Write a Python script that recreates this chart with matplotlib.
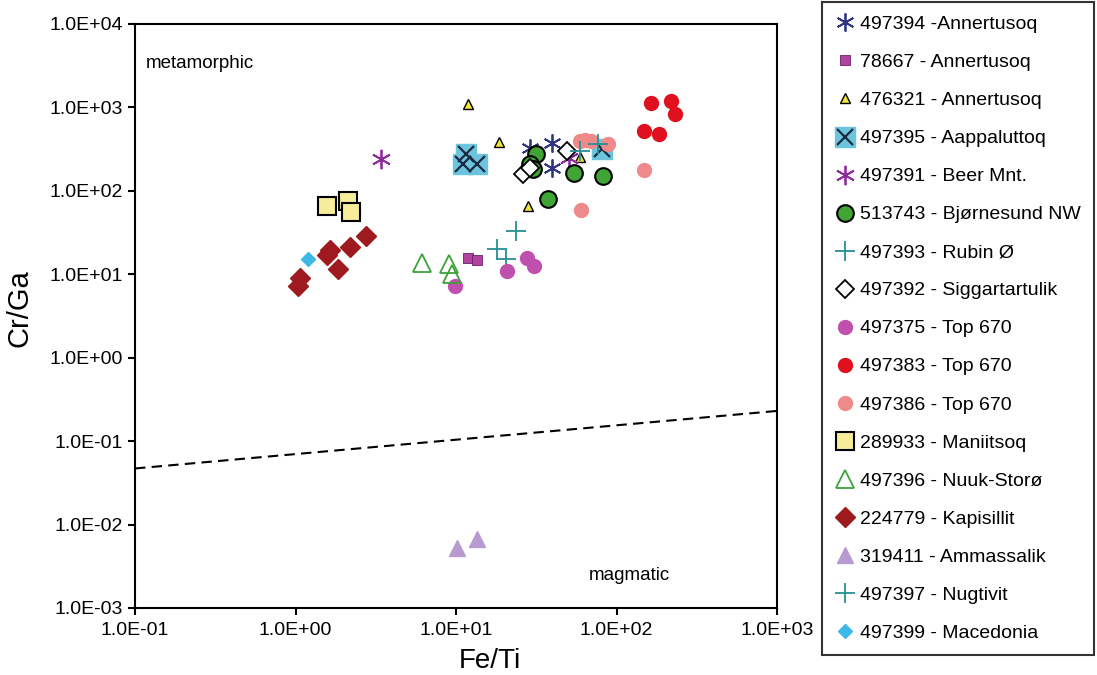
import numpy as np
import matplotlib
matplotlib.use("Agg")
import matplotlib.pyplot as plt
from matplotlib.ticker import FixedLocator, FuncFormatter, NullLocator
from matplotlib.legend_handler import HandlerTuple

plt.rcParams['font.family'] = ['Liberation Sans', 'DejaVu Sans']

# ---- data: Fe/Ti (x) and Cr/Ga (y) per sample ----
s497394_x = [28.7, 39.4, 39.9]
s497394_y = [330, 378, 190]
s78667_x = [11.8, 13.6]
s78667_y = [15.8, 15.0]
s476321_x = [11.8, 18.4, 27.9, 58.8]
s476321_y = [1110, 389, 66.5, 257]
s497395_x = [11.0, 11.6, 13.6, 80.7]
s497395_y = [212, 279, 212, 321]
s497391_x = [3.43, 50.9]
s497391_y = [243, 250]
s513743_x = [31.7, 28.7, 30.0, 37.2, 54.7, 81.8]
s513743_y = [279, 212, 185, 80.6, 165, 152]
s497393_x = [23.8, 17.9, 20.6]
s497393_y = [33.3, 20.3, 15.4]
s497392_x = [26.0, 29.1, 48.8]
s497392_y = [161, 190, 303]
s497375_x = [9.8, 20.9, 27.5, 30.8]
s497375_y = [7.3, 11.0, 15.8, 12.7]
s497383_x = [165, 220, 230, 149, 185]
s497383_y = [1142, 1207, 843, 527, 485]
s497386_x = [58.8, 69.8, 87.9, 149, 60.5, 64.0]
s497386_y = [400, 400, 368, 180, 59.5, 410]
s289933_x = [1.56, 2.11, 2.23]
s289933_y = [66.5, 76.3, 56.3]
s497396_x = [6.1, 9.1, 9.5]
s497396_y = [13.8, 13.4, 10.2]
s224779_x = [1.07, 1.04, 1.65, 1.56, 1.83, 2.17, 2.73]
s224779_y = [9.1, 7.3, 19.7, 17.2, 11.7, 21.4, 29.0]
s319411_x = [10.2, 13.6]
s319411_y = [0.00527, 0.00676]
s497397_x = [58.8, 76.2]
s497397_y = [303, 368]
s497399_x = [1.19]
s497399_y = [15.4]

# discrimination line (metamorphic / magmatic)
line_x = [0.1, 1000]
line_y = [0.047, 0.23]

fig = plt.figure(figsize=(10.97, 6.75), dpi=100)
ax = fig.add_axes([0.1231, 0.0993, 0.5852, 0.8652])
ax.set_xscale('log')
ax.set_yscale('log')

handles = []
labels = []

def pts(x, y, label, **kw):
    h, = ax.plot(x, y, linestyle='none', label=label, **kw)
    handles.append(h)
    labels.append(label)
    return h

ast = (6, 2, 0)

pts(s497394_x, s497394_y, '497394 -Annertusoq', marker=ast, ms=13, mew=1.3,
    color='#2E3584')
pts(s78667_x, s78667_y, '78667 - Annertusoq', marker='s', ms=7,
    mfc='#B0449F', mec='#6A2060', mew=0.6)
pts(s476321_x, s476321_y, '476321 - Annertusoq', marker='^', ms=7.5,
    mfc='#F2E33A', mec='black', mew=1.0)

# cyan square with black cross
h1, = ax.plot(s497395_x, s497395_y, linestyle='none', marker='s', ms=15,
              mfc='#6CC5DC', mec='#6CC5DC')
h2, = ax.plot(s497395_x, s497395_y, linestyle='none', marker='x', ms=11,
              mew=1.6, color='#1C2A44')
handles.append((h1, h2))
labels.append('497395 - Aappaluttoq')

pts(s497391_x, s497391_y, '497391 - Beer Mnt.', marker=ast, ms=14, mew=1.3,
    color='#8E2C9E')
pts(s513743_x, s513743_y, '513743 - Bjørnesund NW', marker='o', ms=12,
    mfc='#3FA535', mec='black', mew=1.5)
pts(s497393_x, s497393_y, '497393 - Rubin Ø', marker='+', ms=14, mew=1.3,
    color='#2A8F94')
pts(s497392_x, s497392_y, '497392 - Siggartartulik', marker='D', ms=9,
    mfc='white', mec='black', mew=1.3)
pts(s497375_x, s497375_y, '497375 - Top 670', marker='o', ms=10,
    color='#C050AE')
pts(s497383_x, s497383_y, '497383 - Top 670', marker='o', ms=10,
    color='#E0101E')
pts(s497386_x, s497386_y, '497386 - Top 670', marker='o', ms=10,
    color='#F08A8A')
pts(s289933_x, s289933_y, '289933 - Maniitsoq', marker='s', ms=13,
    mfc='#F6EC9A', mec='black', mew=1.5)
pts(s497396_x, s497396_y, '497396 - Nuuk-Storø', marker='^', ms=13,
    mfc='none', mec='#3DA23A', mew=1.3)
pts(s224779_x, s224779_y, '224779 - Kapisillit', marker='D', ms=10,
    color='#9E1A1E')
pts(s319411_x, s319411_y, '319411 - Ammassalik', marker='^', ms=11,
    color='#B99ACF')
pts(s497397_x, s497397_y, '497397 - Nugtivit', marker='+', ms=14, mew=1.3,
    color='#2A8F94')
pts(s497399_x, s497399_y, '497399 - Macedonia', marker='D', ms=7,
    color='#3DB9E8')

ax.plot(line_x, line_y, linestyle=(0, (5, 3)), color='black', lw=1.5)

ax.set_xlim(0.1, 1000)
ax.set_ylim(1e-3, 1e4)
fmt = FuncFormatter(lambda v, p: f"{v:.1E}")
ax.xaxis.set_major_locator(FixedLocator([0.1, 1, 10, 100, 1000]))
ax.yaxis.set_major_locator(FixedLocator([1e-3, 1e-2, 1e-1, 1, 10, 100, 1e3, 1e4]))
ax.xaxis.set_minor_locator(NullLocator())
ax.yaxis.set_minor_locator(NullLocator())
ax.xaxis.set_major_formatter(fmt)
ax.yaxis.set_major_formatter(fmt)
ax.tick_params(direction='out', length=5, width=1.5, labelsize=14,
               top=False, right=False)
ax.tick_params(axis='y', pad=4)
ax.tick_params(axis='x', pad=5)
for sp in ax.spines.values():
    sp.set_linewidth(1.5)

ax.set_xlabel('Fe/Ti', fontsize=20)
ax.set_ylabel('Cr/Ga', fontsize=21)
ax.xaxis.set_label_coords(0.553, -0.068)
ax.yaxis.set_label_coords(-0.158, 0.514)

ax.text(0.016, 0.933, 'metamorphic', transform=ax.transAxes, fontsize=13.5,
        va='center', ha='left')
ax.text(0.77, 0.056, 'magmatic', transform=ax.transAxes, fontsize=13.5,
        va='center', ha='center')

leg = fig.legend(handles, labels, loc='upper left',
                 bbox_to_anchor=(0.749, 0.997), fontsize=14,
                 frameon=True, fancybox=False, edgecolor='black',
                 labelspacing=1.05, handlelength=1.0, handletextpad=0.25,
                 borderpad=0.7, borderaxespad=0,
                 handler_map={tuple: HandlerTuple(ndivide=1)})
leg.get_frame().set_linewidth(1.5)

fig.savefig('out.png', dpi=100)
